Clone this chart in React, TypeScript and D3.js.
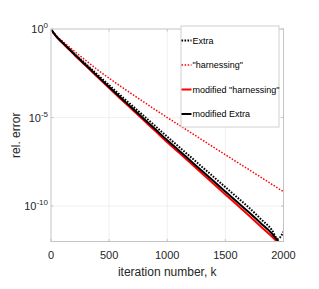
import React from "react";
import * as d3 from "d3";

// iteration numbers where the curves were sampled
const iterations = [0, 25, 50, 100, 200, 300, 400, 500, 600, 700, 800, 900, 1000, 1100, 1200, 1300, 1400, 1500, 1600, 1700, 1800, 1900, 1950, 2000];

// log10 of rel. error
const extraLog = [0, -0.24, -0.43, -0.75, -1.38, -1.98, -2.58, -3.17, -3.76, -4.34, -4.92, -5.5, -6.08, -6.65, -7.22, -7.79, -8.36, -8.93, -9.5, -10.07, -10.7, -11.35, -11.85, -11.45];
const harnessingLog = [0, -0.24, -0.42, -0.7, -1.25, -1.78, -2.3, -2.78, -3.24, -3.69, -4.13, -4.57, -5.0, -5.42, -5.84, -6.26, -6.68, -7.1, -7.52, -7.93, -8.35, -8.77, -8.98, -9.19];
const modHarnessingLog = [0, -0.25, -0.46, -0.8, -1.45, -2.08, -2.71, -3.33, -3.95, -4.56, -5.17, -5.78, -6.39, -6.98, -7.57, -8.16, -8.75, -9.34, -9.93, -10.52, -11.12, -11.72, -12.05, -12.4];
const modExtraLog = [0, -0.25, -0.45, -0.78, -1.42, -2.04, -2.66, -3.27, -3.88, -4.48, -5.08, -5.68, -6.28, -6.86, -7.44, -8.02, -8.6, -9.18, -9.76, -10.34, -10.94, -11.55, -11.95, -12.3];

const xTicks = [0, 500, 1000, 1500, 2000];
const yTickExps = [0, -5, -10];

const seriesNames = ["Extra", "\"harnessing\"", "modified \"harnessing\"", "modified Extra"];

export default function App() {
  const svgRef = React.useRef<SVGSVGElement>(null);
  const width = 319;
  const height = 289;
  const margin = { left: 51, top: 29, right: 319 - 283.5, bottom: 289 - 241.5 };

  React.useEffect(() => {
    const svgEl = d3.select(svgRef.current);
    svgEl.selectAll("*").remove();
    const font = "'Liberation Sans', Arial, sans-serif";

    const x = d3.scaleLinear().domain([0, 2000]).range([margin.left, width - margin.right]);
    const y = d3.scaleLog().domain([1e-12, 1]).range([height - margin.bottom, margin.top]);

    const x0 = margin.left, x1 = width - margin.right;
    const y0 = margin.top, y1 = height - margin.bottom;

    svgEl.append("rect").attr("width", width).attr("height", height).attr("fill", "white");

    // grid
    const grid = svgEl.append("g").attr("stroke", "#ececec").attr("stroke-width", 0.8);
    xTicks.slice(1, -1).forEach(t => {
      grid.append("line").attr("x1", x(t)).attr("x2", x(t)).attr("y1", y0).attr("y2", y1);
    });
    yTickExps.slice(1).forEach(e => {
      grid.append("line").attr("x1", x0).attr("x2", x1).attr("y1", y(Math.pow(10, e))).attr("y2", y(Math.pow(10, e)));
    });

    // series
    const series = [
      { vals: extraLog, color: "black", dash: "1.6,1.4", w: 2 },
      { vals: harnessingLog, color: "#ff0000", dash: "1.5,1.6", w: 1.5 },
      { vals: modHarnessingLog, color: "#ff0000", dash: null, w: 2 },
      { vals: modExtraLog, color: "black", dash: null, w: 2 },
    ];

    svgEl.append("clipPath").attr("id", "plotclip").append("rect")
      .attr("x", x0).attr("y", y0).attr("width", x1 - x0).attr("height", y1 - y0);

    const line = d3.line<number>()
      .x((d, i) => x(iterations[i]))
      .y(d => y(Math.pow(10, d)))
      .curve(d3.curveMonotoneX);

    const plot = svgEl.append("g").attr("clip-path", "url(#plotclip)");
    series.forEach(s => {
      const p = plot.append("path")
        .attr("d", line(s.vals))
        .attr("fill", "none")
        .attr("stroke", s.color)
        .attr("stroke-width", s.w);
      if (s.dash) p.attr("stroke-dasharray", s.dash);
    });

    // axes box
    svgEl.append("rect")
      .attr("x", x0).attr("y", y0).attr("width", x1 - x0).attr("height", y1 - y0)
      .attr("fill", "none").attr("stroke", "#c4c4c4").attr("stroke-width", 1);

    // ticks
    const ticks = svgEl.append("g").attr("stroke", "#c4c4c4").attr("stroke-width", 1);
    xTicks.forEach(t => {
      ticks.append("line").attr("x1", x(t)).attr("x2", x(t)).attr("y1", y1).attr("y2", y1 - 2.5);
      ticks.append("line").attr("x1", x(t)).attr("x2", x(t)).attr("y1", y0).attr("y2", y0 + 2.5);
    });
    yTickExps.forEach(e => {
      const yy = y(Math.pow(10, e));
      ticks.append("line").attr("x1", x0).attr("x2", x0 + 2.5).attr("y1", yy).attr("y2", yy);
      ticks.append("line").attr("x1", x1).attr("x2", x1 - 2.5).attr("y1", yy).attr("y2", yy);
    });

    // tick labels
    const labels = svgEl.append("g").attr("font-family", font).attr("fill", "#262626");
    xTicks.forEach(t => {
      labels.append("text")
        .attr("x", x(t)).attr("y", y1 + 17.5)
        .attr("text-anchor", "middle").attr("font-size", 11)
        .text(String(t));
    });
    yTickExps.forEach(e => {
      const yy = y(Math.pow(10, e));
      const txt = labels.append("text")
        .attr("x", x0 - 3).attr("y", yy + 4)
        .attr("text-anchor", "end").attr("font-size", 11);
      txt.append("tspan").text("10");
      txt.append("tspan").attr("dy", -5).attr("font-size", 8).text(String(e));
    });

    // axis titles
    labels.append("text")
      .attr("x", (x0 + x1) / 2).attr("y", 276)
      .attr("text-anchor", "middle").attr("font-size", 12)
      .text("iteration number, k");
    labels.append("text")
      .attr("transform", `translate(20, ${(y0 + y1) / 2}) rotate(-90)`)
      .attr("text-anchor", "middle").attr("font-size", 12)
      .text("rel. error");

    // legend
    const lg = svgEl.append("g");
    lg.append("rect")
      .attr("x", 181).attr("y", 26).attr("width", 98).attr("height", 101)
      .attr("fill", "white").attr("stroke", "#d0d0d0").attr("stroke-width", 1);
    const rowY = [40.5, 65, 89.5, 114];
    series.forEach((s, i) => {
      const l = lg.append("line")
        .attr("x1", 181.5).attr("x2", 191.5).attr("y1", rowY[i]).attr("y2", rowY[i])
        .attr("stroke", s.color).attr("stroke-width", s.w);
      if (s.dash) l.attr("stroke-dasharray", s.dash);
      lg.append("text")
        .attr("x", 192.5).attr("y", rowY[i] + 3.2)
        .attr("font-family", font).attr("font-size", 9).attr("fill", "black")
        .text(seriesNames[i]);
    });
  }, []);

  return (
    <svg ref={svgRef} width={width} height={height}
      style={{ position: "absolute", left: 0, top: 0, display: "block" }} />
  );
}
